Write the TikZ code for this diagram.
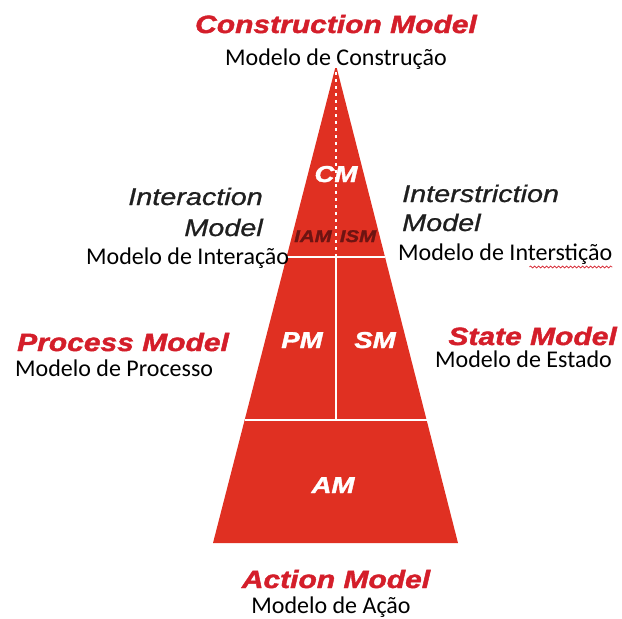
\documentclass[tikz,border=0pt]{standalone}
\usepackage{fontspec}
\newfontfamily\labelfont{Liberation Sans}[BoldItalicFeatures={FakeBold=1.5}, ItalicFeatures={FakeBold=0.8}]
\newfontfamily\ptfont{Carlito}
\usetikzlibrary{calc, decorations.pathmorphing}
\definecolor{pyrred}{RGB}{224,48,34}
\definecolor{titlered}{RGB}{212,30,42}
\definecolor{darkred}{RGB}{110,20,18}
\newcommand{\wide}[1]{\scalebox{1.2}[1]{#1}}

\begin{document}
\begin{tikzpicture}[
    x=1pt, y=-1pt,
    redtitle/.style={font=\labelfont\bfseries\itshape\fontsize{25}{25}\selectfont, text=titlered, inner sep=0pt},
    sidelabel/.style={font=\labelfont\itshape\fontsize{24}{24}\selectfont, text=black!88, inner sep=0pt},
    region/.style={font=\labelfont\bfseries\itshape\fontsize{23}{23}\selectfont, text=white, inner sep=0pt},
    subregion/.style={region, font=\labelfont\bfseries\itshape\fontsize{17}{17}\selectfont, text=darkred},
    portuguese/.style={font=\ptfont\fontsize{24}{24}\selectfont, inner sep=0pt},
    divider/.style={white, line width=2pt}
]
    \useasboundingbox (0,0) rectangle (622,619);

    % Pyramid
    \coordinate (apex) at (336,65);
    \coordinate (base-l) at (213,543);
    \coordinate (base-r) at (458,543);
    \fill[pyrred] (apex) -- (base-r) -- (base-l) -- cycle;

    % Dividers
    \coordinate (upper-l) at ($(apex)!0.4017!(base-l)$);
    \coordinate (upper-r) at ($(apex)!0.4017!(base-r)$);
    \coordinate (lower-l) at ($(apex)!0.7427!(base-l)$);
    \coordinate (lower-r) at ($(apex)!0.7427!(base-r)$);
    \draw[divider] (upper-l) -- (upper-r);
    \draw[divider] (lower-l) -- (lower-r);
    \draw[divider, dash pattern=on 3pt off 4pt] (apex) -- (apex |- upper-l);
    \draw[divider] (apex |- upper-l) -- (apex |- lower-l);

    % Regions inside the pyramid
    \node[region, anchor=base] (cm) at (336,182) {\wide{CM}};
    \node[subregion, anchor=base] (iam) at (313,242) {\wide{IAM}};
    \node[subregion, anchor=base] (ism) at (358,242) {\wide{ISM}};
    \node[region, anchor=base] (pm) at (302,348) {\wide{PM}};
    \node[region, anchor=base] (sm) at (375,348) {\wide{SM}};
    \node[region, anchor=base] (am) at (333,493) {\wide{AM}};

    % Model names
    \node[redtitle, anchor=base] (construction) at (336,33) {\wide{Construction Model}};
    \node[portuguese, anchor=base] (construction-pt) at (336,65) {Modelo de Construção};

    \node[sidelabel, anchor=base east] (interaction) at (263,205) {\wide{Interaction}};
    \node[sidelabel, anchor=base east] (interaction-2) at (263,236) {\wide{Model}};
    \node[portuguese, anchor=base west] (interaction-pt) at (86,264) {Modelo de Interação};

    \node[sidelabel, anchor=base west] (interstriction) at (402,202) {\wide{Interstriction}};
    \node[sidelabel, anchor=base west] (interstriction-2) at (402,231) {\wide{Model}};
    \node[portuguese, anchor=base west] (interstriction-pt) at (398,260) {Modelo de Interstição};
    \draw[titlered, line width=0.6pt, decorate, decoration={snake, amplitude=1pt, segment length=4pt}]
        ($(interstriction-pt.base east)+(-83,7)$) -- ($(interstriction-pt.base east)+(0,7)$);

    \node[redtitle, anchor=base west] (process) at (17,351) {\wide{Process Model}};
    \node[portuguese, anchor=base west] (process-pt) at (15,376) {Modelo de Processo};

    \node[redtitle, anchor=base east] (state) at (617,345) {\wide{State Model}};
    \node[portuguese, anchor=base east] (state-pt) at (612,367) {Modelo de Estado};

    \node[redtitle, anchor=base] (action) at (336,588) {\wide{Action Model}};
    \node[portuguese, anchor=base] (action-pt) at (331,613) {Modelo de Ação};
\end{tikzpicture}
\end{document}
